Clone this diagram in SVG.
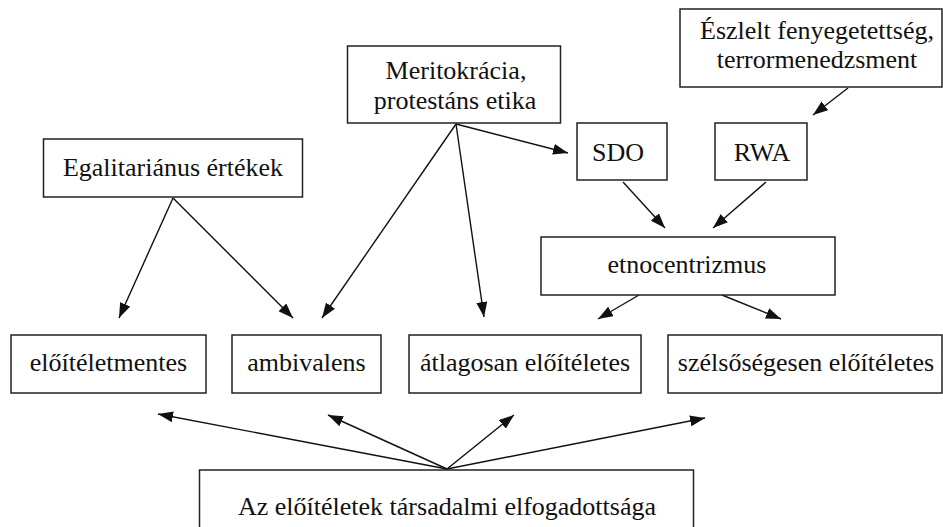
<svg xmlns="http://www.w3.org/2000/svg" width="943" height="527" viewBox="0 0 943 527">
<style>
.box{fill:#fff;stroke:#222;stroke-width:1.5}
.t{font-family:'Liberation Serif','Times New Roman',Times,Tinos,'Noto Serif','DejaVu Serif',serif;font-size:26px;fill:#111;text-anchor:middle}
.c{fill:none;stroke:#111;stroke-width:1.4;marker-end:url(#ah)}
</style>
<defs>
<marker id="ah" viewBox="0 0 15 11" refX="15" refY="5.5" markerWidth="15" markerHeight="11" markerUnits="userSpaceOnUse" orient="auto">
<path d="M0,0 L15,5.5 L0,11 z" fill="#111"/>
</marker>
</defs>
<rect width="943" height="527" fill="#fff"/>
<g id="connectors">
<path class="c" d="M173,198 L119,318"/>
<path class="c" d="M173,198 L293,318"/>
<path class="c" d="M456,124 L322,318"/>
<path class="c" d="M456,124 L484,317"/>
<path class="c" d="M456,124 L568,153"/>
<path class="c" d="M848,88 L813,115"/>
<path class="c" d="M623,182 L665,228"/>
<path class="c" d="M766,182 L713,228"/>
<path class="c" d="M639,295 L598,319"/>
<path class="c" d="M722,295 L781,319"/>
<path class="c" d="M447,469 L158,414"/>
<path class="c" d="M447,469 L328,415"/>
<path class="c" d="M447,469 L514,415"/>
<path class="c" d="M447,469 L705,418"/>
</g>
<g id="egal"><rect class="box" x="43.5" y="139" width="259" height="58"/><text class="t" x="173" y="176" font-family="Liberation Serif, serif">Egalitariánus értékek</text></g>
<g id="merit"><rect class="box" x="347.5" y="46" width="213" height="77"/><text class="t" x="456" y="79">Meritokrácia,</text><text class="t" x="455" y="109">protestáns etika</text></g>
<g id="eszlelt"><rect class="box" x="680" y="9" width="262" height="78"/><text class="t" x="817" y="39">Észlelt fenyegetettség,</text><text class="t" x="817" y="68">terrormenedzsment</text></g>
<g id="sdo"><rect class="box" x="577" y="123" width="90" height="57"/><text class="t" x="618" y="161">SDO</text></g>
<g id="rwa"><rect class="box" x="715" y="123" width="92" height="57"/><text class="t" x="762" y="161">RWA</text></g>
<g id="etno"><rect class="box" x="541" y="237" width="294" height="58"/><text class="t" x="687" y="273">etnocentrizmus</text></g>
<g id="elo"><rect class="box" x="11" y="335" width="195" height="58"/><text class="t" x="108.5" y="371">előítéletmentes</text></g>
<g id="amb"><rect class="box" x="232" y="335" width="149" height="58"/><text class="t" x="306.5" y="371">ambivalens</text></g>
<g id="atl"><rect class="box" x="409" y="335" width="232" height="58"/><text class="t" x="525" y="371">átlagosan előítéletes</text></g>
<g id="szel"><rect class="box" x="668" y="335" width="274" height="58"/><text class="t" x="806" y="371">szélsőségesen előítéletes</text></g>
<g id="bottom"><rect class="box" x="199.5" y="470" width="494" height="60"/><text class="t" x="447" y="515">Az előítéletek társadalmi elfogadottsága</text></g>
</svg>
